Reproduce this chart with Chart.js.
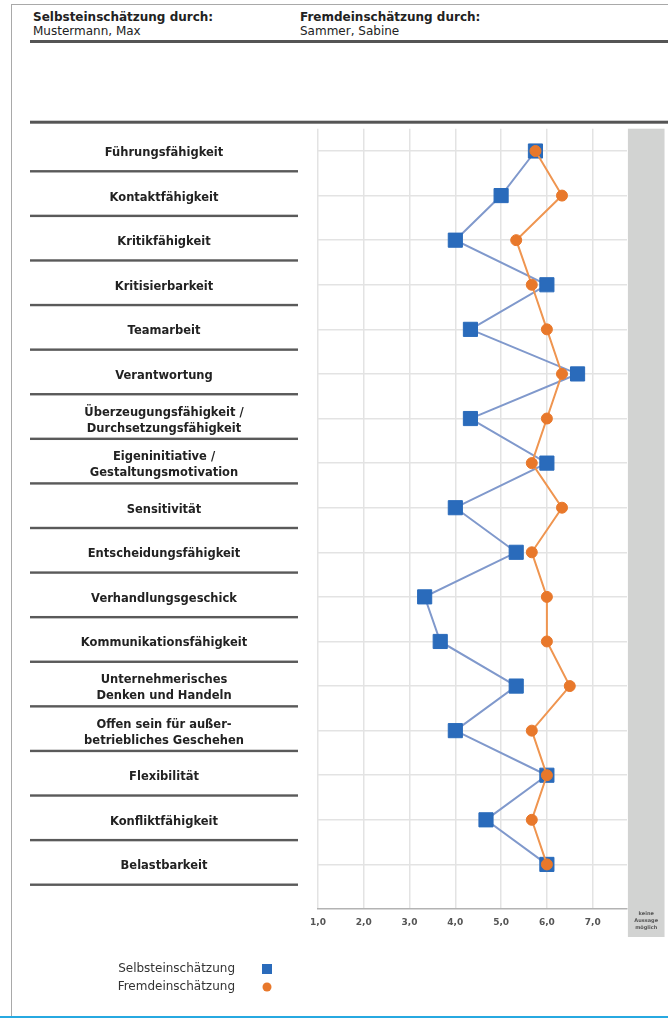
<!DOCTYPE html>
<html>
<head>
<meta charset="utf-8">
<script src="https://cdn.jsdelivr.net/npm/chart.js@4.4.1/dist/chart.umd.min.js"></script>
<style>
  html, body { margin: 0; padding: 0; background: #fff; }
  body { width: 668px; height: 1019px; position: relative; overflow: hidden; font-family: "DejaVu Sans", sans-serif; color: #222; }
  #frame { position: absolute; left: 11px; top: 4px; right: 0; bottom: 3px; border-left: 1px solid #a9a9a9; border-top: 1px solid #a9a9a9; }
  #bottom { position: absolute; left: 0; right: 0; bottom: 1px; height: 2px; background: #27a9e1; }
  .head { position: absolute; top: 10px; font-size: 12px; line-height: 14px; }
  .head b { display: block; }
  #rule { position: absolute; left: 30px; right: 0; top: 40px; height: 3px; background: #555; }
  #wrap { position: absolute; left: 0; top: 0; width: 668px; height: 1019px; }
</style>
</head>
<body>
<div id="frame"></div>
<div id="bottom"></div>
<div class="head" style="left:33px"><b>Selbsteinschätzung durch:</b>Mustermann, Max</div>
<div class="head" style="left:300px"><b>Fremdeinschätzung durch:</b>Sammer, Sabine</div>
<div id="rule"></div>
<div id="wrap"><canvas id="chart"></canvas></div>
<script>
// === Data ===
const categories = [
  'Führungsfähigkeit', 'Kontaktfähigkeit', 'Kritikfähigkeit', 'Kritisierbarkeit',
  'Teamarbeit', 'Verantwortung', 'Überzeugungsfähigkeit /\nDurchsetzungsfähigkeit',
  'Eigeninitiative /\nGestaltungsmotivation', 'Sensitivität', 'Entscheidungsfähigkeit',
  'Verhandlungsgeschick', 'Kommunikationsfähigkeit', 'Unternehmerisches\nDenken und Handeln',
  'Offen sein für außer-\nbetriebliches Geschehen', 'Flexibilität', 'Konfliktfähigkeit', 'Belastbarkeit'
];
const selfValues  = [5.75, 5.0, 4.0, 6.0, 4.33, 6.67, 4.33, 6.0, 4.0, 5.33, 3.33, 3.67, 5.33, 4.0, 6.0, 4.67, 6.0];
const otherValues = [5.75, 6.33, 5.33, 5.67, 6.0, 6.33, 6.0, 5.67, 6.33, 5.67, 6.0, 6.0, 6.5, 5.67, 6.0, 5.67, 6.0];
const xTicks = [1, 2, 3, 4, 5, 6, 7];
const noAnswerLabel = ['keine', 'Aussage', 'möglich'];

const toPoints = vals => vals.map((v, i) => ({ x: v, y: i + 1 }));

// === Decorations: label column, grey column, legend ===
const decor = {
  id: 'decor',
  beforeDatasetsDraw(chart) {
    const { ctx, chartArea, scales: { x } } = chart;
    const l = x.getPixelForValue(7.77), r = x.getPixelForValue(8.57);
    ctx.save();
    ctx.fillStyle = '#d2d3d2';
    ctx.fillRect(l, chartArea.top, r - l, chartArea.bottom + 28 - chartArea.top);
    ctx.fillStyle = '#555';
    ctx.font = 'bold 5px "DejaVu Sans"';
    ctx.textAlign = 'center';
    ctx.textBaseline = 'middle';
    noAnswerLabel.forEach((t, i) => ctx.fillText(t, (l + r) / 2, chartArea.bottom + 5 + i * 7));
    ctx.restore();
  },
  afterDraw(chart) {
    const { ctx, chartArea, scales: { y } } = chart;
    ctx.save();
    // top rule
    ctx.fillStyle = '#555';
    ctx.fillRect(30, chartArea.top - 8, 668 - 30, 3);
    // row labels + separators
    ctx.font = 'bold 11.5px "DejaVu Sans"';
    ctx.textAlign = 'center';
    ctx.textBaseline = 'middle';
    categories.forEach((c, i) => {
      const cy = y.getPixelForValue(i + 1);
      const lines = c.split('\n');
      ctx.fillStyle = '#222';
      lines.forEach((t, k) => ctx.fillText(t, 164, cy + 2 + (k - (lines.length - 1) / 2) * 16));
      const sy = y.getPixelForValue(i + 1.5) - 2;
      ctx.fillStyle = '#5a5a5a';
      ctx.fillRect(30, sy - 1.2, 268, 2.4);
    });
    // legend
    ctx.font = '12px "DejaVu Sans"';
    ctx.textAlign = 'right';
    chart.data.datasets.forEach((ds, i) => {
      const ly = 969 + i * 18;
      ctx.fillStyle = '#333';
      ctx.fillText(ds.label, 235, ly);
      ctx.fillStyle = ds.pointBackgroundColor;
      if (ds.pointStyle === 'rect') {
        ctx.fillRect(262, ly - 5, 10, 10);
      } else {
        ctx.beginPath();
        ctx.arc(267, ly, 4.5, 0, Math.PI * 2);
        ctx.fill();
      }
    });
    ctx.restore();
  }
};

new Chart(document.getElementById('chart'), {
  type: 'line',
  data: {
    datasets: [
      {
        label: 'Selbsteinschätzung',
        data: toPoints(selfValues),
        borderColor: '#8099cc',
        borderWidth: 2,
        pointStyle: 'rect',
        pointRadius: 10,
        pointBackgroundColor: '#2a6bbb',
        pointBorderColor: '#2a6bbb',
        pointBorderWidth: 1,
        order: 2
      },
      {
        label: 'Fremdeinschätzung',
        data: toPoints(otherValues),
        borderColor: '#ef9550',
        borderWidth: 2,
        pointStyle: 'circle',
        pointRadius: 5.5,
        pointBackgroundColor: '#e8782b',
        pointBorderColor: '#e8782b',
        pointBorderWidth: 1,
        order: 1
      }
    ]
  },
  options: {
    responsive: true,
    maintainAspectRatio: false,
    animation: false,
    layout: { padding: { top: 128.7, left: 318, right: 41, bottom: 80 } },
    plugins: { legend: { display: false }, tooltip: { enabled: false } },
    scales: {
      x: {
        type: 'linear',
        min: 1,
        max: 7.75,
        afterBuildTicks: s => { s.ticks = xTicks.map(v => ({ value: v })); },
        afterFit: s => { s.height = 30; },
        grid: { color: '#e3e3e3', lineWidth: 1.5, drawTicks: false },
        border: { display: true, color: '#b3b3b3', width: 1.5 },
        ticks: {
          padding: 8,
          color: '#555',
          font: { family: 'DejaVu Sans', size: 9, weight: 'bold' },
          callback: v => v.toFixed(1).replace('.', ',')
        }
      },
      y: {
        type: 'linear',
        reverse: true,
        min: 0.5,
        max: 18,
        afterBuildTicks: s => { s.ticks = categories.map((c, i) => ({ value: i + 1 })); },
        afterFit: s => { s.width = 0; },
        grid: { color: '#e3e3e3', lineWidth: 1.5, drawTicks: false },
        border: { display: false },
        ticks: { display: false }
      }
    }
  },
  plugins: [decor]
});
</script>
</body>
</html>
